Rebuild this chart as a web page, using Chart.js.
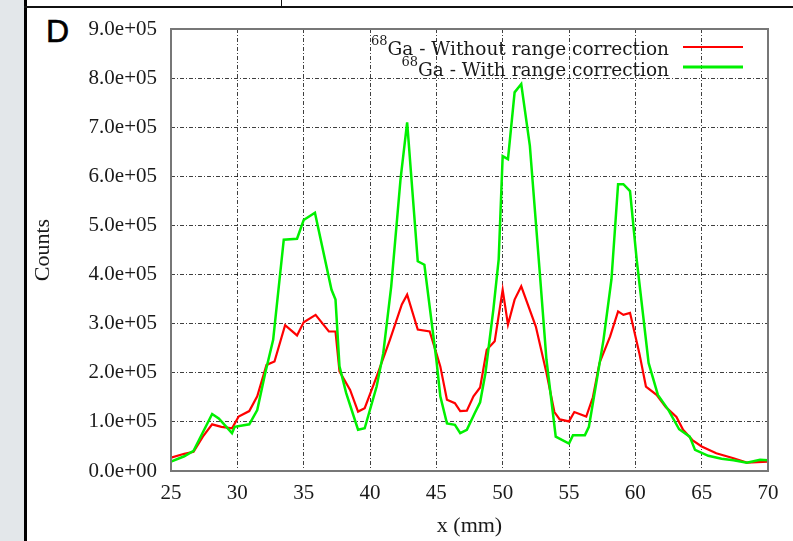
<!DOCTYPE html>
<html>
<head>
<meta charset="utf-8">
<title>Range correction profile</title>
<script src="https://cdn.jsdelivr.net/npm/chart.js@4.4.1/dist/chart.umd.min.js"></script>
<style>
  html, body { margin: 0; padding: 0; background: #fff; }
  body { width: 793px; height: 541px; position: relative; overflow: hidden; }
  .strip       { position: absolute; left: 0; top: 0; width: 24px; height: 541px; background: #e3e7ea; }
  .frame-left  { position: absolute; left: 24px; top: 0; width: 3px; height: 541px; background: #000; }
  .frame-top   { position: absolute; left: 24px; top: 6px; width: 769px; height: 2px; background: #111; }
  .frame-tick  { position: absolute; left: 281px; top: 0; width: 1px; height: 7px; background: #111; }
  .panel-label { position: absolute; left: 46px; top: 13px; font: 32px "Liberation Sans", Arial, sans-serif; color: #000; -webkit-text-stroke: 0.6px #000; }
  #chart       { position: absolute; left: 0; top: 0; }
</style>
</head>
<body>
<div class="strip"></div>
<div class="frame-left"></div>
<div class="frame-top"></div>
<div class="frame-tick"></div>
<div class="panel-label">D</div>
<canvas id="chart" width="793" height="541"></canvas>

<script>
/* ─── Data ───────────────────────────────────────────────────────────────── */
const xTicks = [25, 30, 35, 40, 45, 50, 55, 60, 65, 70];
const yTickLabels = ['0.0e+00', '1.0e+05', '2.0e+05', '3.0e+05', '4.0e+05',
                     '5.0e+05', '6.0e+05', '7.0e+05', '8.0e+05', '9.0e+05'];

const legendIsotope = '68';
const legendLabels  = ['Ga - Without range correction', 'Ga - With range correction'];

// 68Ga - without range correction (x in mm, counts)
const redX = [25.0, 26.0, 26.7, 27.4, 28.1, 28.8, 29.6, 30.1, 30.9, 31.5,
              32.2, 32.8, 33.6, 34.5, 35.0, 35.9, 36.9, 37.4, 37.7, 38.5,
              39.1, 39.6, 40.5, 41.5, 42.4, 42.8, 43.6, 44.5, 45.0, 45.3,
              45.8, 46.4, 46.8, 47.3, 47.8, 48.3, 48.8, 49.4, 50.0, 50.4,
              50.9, 51.4, 52.5, 53.3, 53.9, 54.3, 55.0, 55.4, 56.3, 56.8,
              57.3, 58.1, 58.7, 59.1, 59.6, 60.3, 60.8, 61.6, 62.3, 63.1,
              63.6, 64.3, 65.0, 66.1, 67.4, 68.4, 70.0];
const redY = [27000, 35000, 39000, 70000, 95000, 90000, 87000, 111000, 122000, 152000,
              216000, 223000, 297000, 276000, 303000, 318000, 284000, 284000, 203000, 165000,
              121000, 128000, 192000, 267000, 339000, 359000, 288000, 284000, 240000, 213000,
              145000, 138000, 122000, 123000, 152000, 170000, 247000, 264000, 369000, 298000,
              349000, 376000, 294000, 200000, 120000, 105000, 101000, 120000, 111000, 150000,
              220000, 274000, 325000, 318000, 322000, 240000, 172000, 155000, 130000, 110000,
              84000, 63000, 50000, 36000, 26000, 17000, 19000];

// 68Ga - with range correction
const greenX = [25.0, 26.0, 26.7, 28.1, 28.6, 29.6, 29.8, 30.9, 31.5, 32.1,
                32.7, 33.5, 34.5, 35.0, 35.85, 37.1, 37.4, 37.7, 38.2, 39.1,
                39.6, 40.5, 41.0, 41.6, 42.3, 42.8, 43.6, 44.1, 45.0, 45.3,
                45.8, 46.4, 46.8, 47.3, 47.9, 48.3, 48.7, 49.3, 49.7, 50.0,
                50.4, 50.9, 51.4, 52.05, 52.8, 53.3, 54.0, 55.0, 55.3, 56.2,
                56.5, 57.1, 57.6, 58.2, 58.7, 59.1, 59.6, 60.1, 61.0, 61.7,
                62.5, 63.3, 64.1, 64.5, 65.5, 66.5, 67.4, 68.4, 69.4, 70.0];
const greenY = [19000, 30000, 41000, 116000, 107000, 77000, 90000, 95000, 124000, 199000,
                267000, 471000, 473000, 511000, 526000, 369000, 349000, 213000, 159000, 84000,
                87000, 172000, 240000, 376000, 594000, 710000, 427000, 420000, 227000, 152000,
                97000, 94000, 77000, 84000, 118000, 140000, 199000, 329000, 431000, 641000,
                635000, 771000, 788000, 662000, 403000, 227000, 70000, 56000, 73000, 73000,
                90000, 186000, 267000, 390000, 584000, 584000, 570000, 431000, 220000, 155000,
                124000, 85000, 70000, 43000, 31000, 25000, 22000, 17000, 23000, 22000];

/* ─── Helpers ────────────────────────────────────────────────────────────── */
const SERIF     = '"Liberation Serif", "Times New Roman", serif';
const KEY_SERIF = '"DejaVu Serif", serif';
const toPoints = (xs, ys) => xs.map((x, i) => ({ x, y: ys[i] }));

/* gnuplot style frame + key (key has superscript isotope numbers) */
const framePlugin = {
  id: 'frame',
  afterDraw(chart) {
    const { ctx, chartArea: a } = chart;
    ctx.save();
    ctx.strokeStyle = '#777';
    ctx.lineWidth = 2;
    ctx.strokeRect(a.left, a.top, a.right - a.left, a.bottom - a.top);

    const textRight = 669, sampleL = 683, sampleR = 743;
    const rows = [
      { base: 55, lineY: 47, color: '#ff0000', w: 2 },
      { base: 76, lineY: 67, color: '#00f000', w: 3 }
    ];
    ctx.fillStyle = '#1a1a1a';
    ctx.textBaseline = 'alphabetic';
    rows.forEach((r, i) => {
      ctx.font = `18.5px ${KEY_SERIF}`;
      ctx.textAlign = 'right';
      ctx.fillText(legendLabels[i], textRight, r.base);
      const w = ctx.measureText(legendLabels[i]).width;
      ctx.font = `13px ${KEY_SERIF}`;
      ctx.fillText(legendIsotope, textRight - w, r.base - 10);

      ctx.strokeStyle = r.color;
      ctx.lineWidth = r.w;
      ctx.beginPath();
      ctx.moveTo(sampleL, r.lineY);
      ctx.lineTo(sampleR, r.lineY);
      ctx.stroke();
    });
    ctx.restore();
  }
};

/* ─── Chart ──────────────────────────────────────────────────────────────── */
const gridStyle = { color: 'rgba(0,0,0,0.75)', lineWidth: 1, drawTicks: false };
const dashStyle = { display: false, dash: [4, 2, 1, 2] };

new Chart(document.getElementById('chart'), {
  type: 'line',
  data: {
    datasets: [
      {
        label: legendIsotope + legendLabels[0],
        data: toPoints(redX, redY),
        borderColor: '#ff0000',
        borderWidth: 2.2,
        pointRadius: 0,
        tension: 0,
        order: 1
      },
      {
        label: legendIsotope + legendLabels[1],
        data: toPoints(greenX, greenY),
        borderColor: '#00f000',
        borderWidth: 2.5,
        pointRadius: 0,
        tension: 0,
        order: 0
      }
    ]
  },
  options: {
    responsive: false,
    animation: false,
    layout: { padding: { left: 30, top: 29, right: 25, bottom: 0 } },
    plugins: { legend: { display: false }, tooltip: { enabled: false } },
    scales: {
      x: {
        type: 'linear',
        min: 25, max: 70,
        afterBuildTicks: s => { s.ticks = xTicks.map(v => ({ value: v })); },
        afterFit: s => { s.height = 70; },
        grid: gridStyle,
        border: dashStyle,
        ticks: { font: { family: SERIF, size: 21 }, color: '#1a1a1a', padding: 10, maxRotation: 0 },
        title: { display: true, text: 'x (mm)', font: { family: SERIF, size: 22 }, color: '#1a1a1a', padding: { top: 0, bottom: 2 } }
      },
      y: {
        type: 'linear',
        min: 0, max: 900000,
        afterBuildTicks: s => { s.ticks = yTickLabels.map((_, i) => ({ value: i * 100000 })); },
        afterFit: s => { s.width = 141; },
        grid: gridStyle,
        border: dashStyle,
        ticks: {
          font: { family: SERIF, size: 21 }, color: '#1a1a1a', padding: 14,
          callback: v => yTickLabels[Math.round(v / 100000)]
        },
        title: { display: true, text: 'Counts', font: { family: SERIF, size: 22 }, color: '#1a1a1a', padding: { top: 0, bottom: 0 } }
      }
    }
  },
  plugins: [framePlugin]
});
</script>
</body>
</html>
